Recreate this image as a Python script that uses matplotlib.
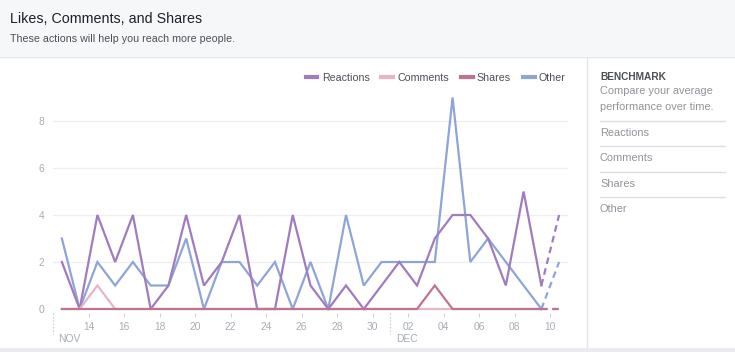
import matplotlib.pyplot as plt
import matplotlib.patches as patches
import numpy as np

plt.rcParams['font.family'] = ['Liberation Sans', 'DejaVu Sans']

# days counted from Oct 31 (so Nov 14 = 14, Dec 2 = 32); points sit at noon
days = np.arange(12.5, 41.0, 1.0)
reactions = [2, 0, 4, 2, 4, 0, 1, 4, 1, 2, 4, 0, 0, 4, 1, 0, 1, 0, 1, 2, 1, 3, 4, 4, 3, 1, 5, 1, 4]
comments = [0, 0, 1, 0, 0, 0, 0, 0, 0, 0, 0, 0, 0, 0, 0, 0, 0, 0, 0, 0, 0, 0, 0, 0, 0, 0, 0, 0, 0]
shares = [0, 0, 0, 0, 0, 0, 0, 0, 0, 0, 0, 0, 0, 0, 0, 0, 0, 0, 0, 0, 0, 1, 0, 0, 0, 0, 0, 0, 0]
other = [3, 0, 2, 1, 2, 1, 1, 3, 0, 2, 2, 1, 2, 0, 2, 0, 4, 1, 2, 2, 2, 2, 9, 2, 3, 2, 1, 0, 2]

series = [
    ("Reactions", reactions, "#a07cbf"),
    ("Comments", comments, "#e6b5c8"),
    ("Shares", shares, "#bf7393"),
    ("Other", other, "#8fa4d7"),
]
draw_order = ["Other", "Reactions", "Comments", "Shares"]

tick_pos = [14, 16, 18, 20, 22, 24, 26, 28, 30, 32, 34, 36, 38, 40]
tick_lab = ["14", "16", "18", "20", "22", "24", "26", "28", "30", "02", "04", "06", "08", "10"]
months = [(12, "NOV"), (31, "DEC")]
bench_items = ["Reactions", "Comments", "Shares", "Other"]

W, H = 735, 352
fig = plt.figure(figsize=(W / 100, H / 100), dpi=100)
fig.patch.set_facecolor("white")

def fy(p):
    return 1 - p / H

def fx(p):
    return p / W

# header / footer backgrounds
fig.add_artist(patches.Rectangle((0, fy(56)), 1, 56 / H, transform=fig.transFigure,
                                 facecolor="#f6f7f9", edgecolor="none", zorder=0))
fig.add_artist(plt.Line2D([0, 1], [fy(56.5)] * 2, transform=fig.transFigure, color="#e3e5e8", lw=1))
fig.add_artist(patches.Rectangle((0, 0), 1, 4.5 / H, transform=fig.transFigure,
                                 facecolor="#e9ebee", edgecolor="none", zorder=0))
fig.add_artist(plt.Line2D([fx(587)] * 2, [fy(58), fy(347)], transform=fig.transFigure, color="#e3e5e8", lw=1))

fig.text(fx(10), fy(19), "Likes, Comments, and Shares", fontsize=10.3, color="#1d2129", va="center")
fig.text(fx(10), fy(38.5), "These actions will help you reach more people.", fontsize=7.7, color="#4b4f56", va="center")

# benchmark panel
fig.text(fx(600), fy(76.5), "BENCHMARK", fontsize=7.3, fontweight="bold", color="#4b4f56", va="center")
fig.text(fx(600), fy(91.5), "Compare your average", fontsize=7.9, color="#90949c", va="center")
fig.text(fx(600), fy(107), "performance over time.", fontsize=7.9, color="#90949c", va="center")
for k, name in enumerate(bench_items):
    yl = 120.5 + k * 25.5
    fig.add_artist(plt.Line2D([fx(600), fx(725)], [fy(yl)] * 2, transform=fig.transFigure, color="#dddfe2", lw=1))
    fig.text(fx(600), fy(yl + 12), name, fontsize=7.9, color="#90949c", va="center")

# chart axes: x 12..41 -> px 53..568, y 0 at px 309, 23.5 px per unit
y_lo, y_hi = -0.15, 9.6
top_px = 309 - y_hi * 23.5
bot_px = 309 - y_lo * 23.5
ax = fig.add_axes([fx(53), fy(bot_px), fx(568) - fx(53), (bot_px - top_px) / H])
ax.set_xlim(12, 41)
ax.set_ylim(y_lo, y_hi)
for s in ax.spines.values():
    s.set_visible(False)
ax.set_facecolor("none")
ax.set_yticks([0, 2, 4, 6, 8])
ax.set_yticklabels(["0", "2", "4", "6", "8"])
ax.set_xticks(tick_pos)
ax.set_xticklabels(tick_lab)
ax.tick_params(axis="y", length=0, pad=6, labelsize=7.4, labelcolor="#a8adb5")
ax.tick_params(axis="x", length=3, width=0.8, color="#d0d3d8", pad=4, labelsize=7.4, labelcolor="#a8adb5")
for yv in [2, 4, 6, 8]:
    ax.axhline(yv, color="#eeeff1", lw=0.9, zorder=0)

lookup = {n: (v, c) for n, v, c in series}
for name in draw_order:
    vals, col = lookup[name]
    ax.plot(days[:-1], vals[:-1], color=col, lw=1.6, solid_joinstyle="miter", zorder=3, clip_on=False)
    ax.plot(days[-2:], vals[-2:], color=col, lw=1.6, ls=(0, (3, 2)), zorder=3, clip_on=False)

for xm, lab in months:
    ax.plot([xm, xm], [-0.15, -1.05], color="#c9ccd1", lw=0.8, ls=(0, (1.5, 1.5)), clip_on=False)
    ax.text(xm + 0.3, -1.28, lab, fontsize=7.4, color="#a8adb5", va="center", ha="left", clip_on=False)

handles = [plt.Line2D([], [], color=c, lw=3) for _, _, c in series]
leg = fig.legend(handles, [n for n, _, _ in series], loc="center right",
                 bbox_to_anchor=(fx(570), fy(78)), ncol=4, frameon=False, fontsize=7.7,
                 handlelength=1.1, handletextpad=0.4, columnspacing=1.1, borderaxespad=0)
for t in leg.get_texts():
    t.set_color("#4b4f56")

fig.savefig("out.png", dpi=100)
